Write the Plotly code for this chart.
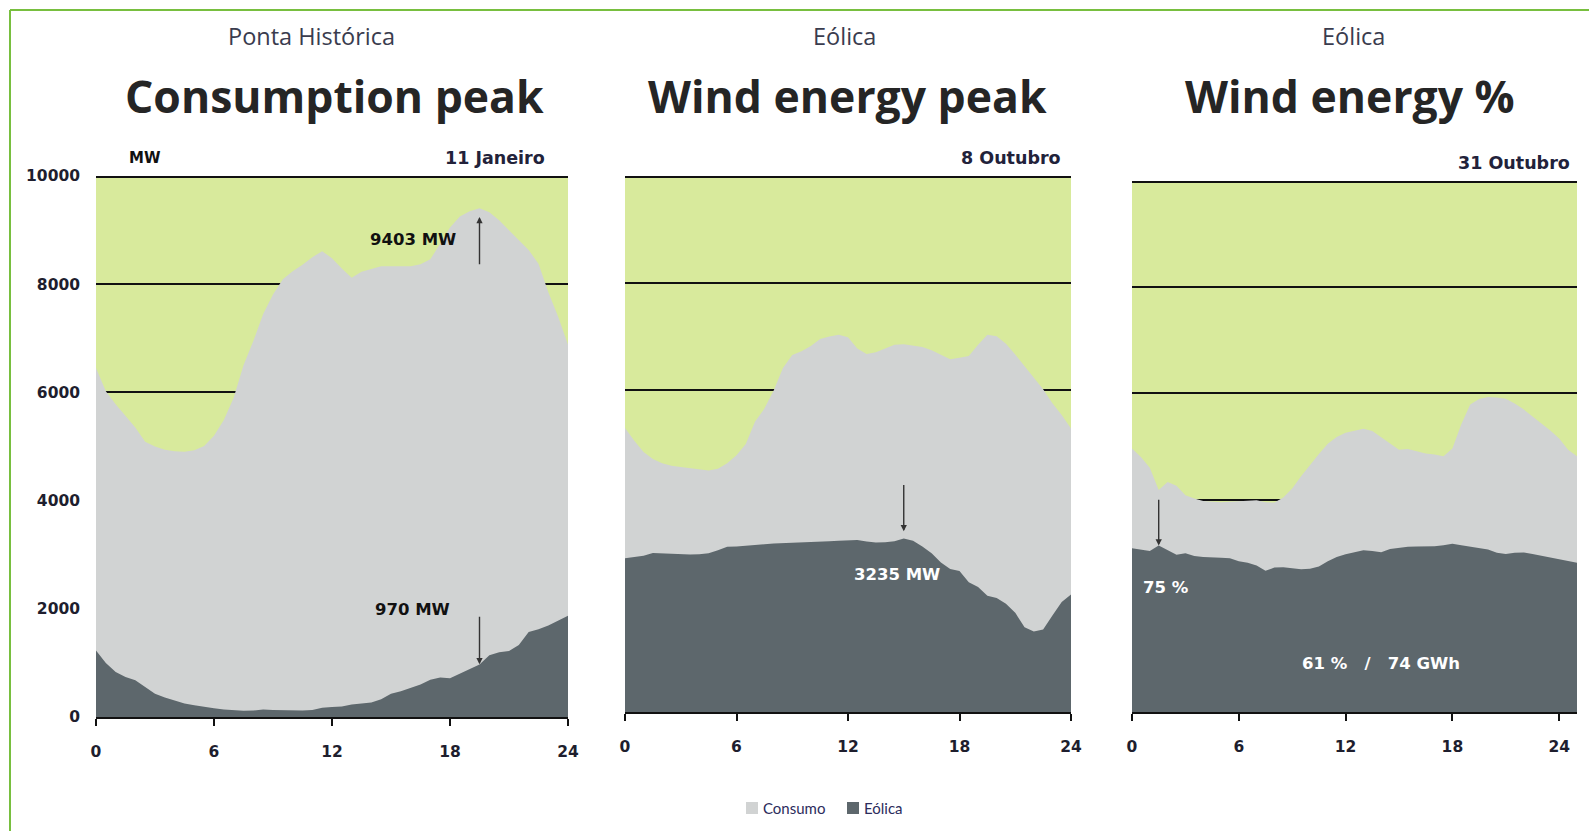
import plotly.graph_objects as go

W, H = 1589, 831

# ---- data -------------------------------------------------------------
# half-hourly time grid (hours); 31 Oct has 25 hours (DST change)
hours_24 = [i * 0.5 for i in range(49)]
hours_25 = [i * 0.5 for i in range(51)]

# 11 Janeiro - consumption peak (MW)
consumo_jan = [6450, 6020, 5780, 5570, 5350, 5090, 5000, 4940, 4910, 4905,
               4930, 5010, 5200, 5490, 5900, 6500, 6950, 7450, 7810, 8090,
               8240, 8360, 8500, 8610, 8480, 8290, 8120, 8230, 8280, 8330,
               8330, 8330, 8330, 8370, 8460, 8750, 9050, 9250, 9350, 9403,
               9330, 9180, 9000, 8810, 8630, 8380, 7850, 7400, 6880]
eolica_jan = [1230, 1000, 830, 740, 680, 560, 430, 360, 300, 250,
              215, 185, 160, 140, 125, 115, 120, 140, 130, 125,
              122, 120, 130, 170, 185, 195, 230, 250, 270, 330,
              430, 475, 540, 600, 690, 730, 715, 800, 900, 970,
              1140, 1195, 1220, 1330, 1570, 1620, 1690, 1780, 1870]

# 8 Outubro - wind energy peak (MW)
consumo_out8 = [5300, 5060, 4850, 4720, 4640, 4595, 4570, 4545, 4520, 4505,
                4540, 4640, 4790, 5000, 5420, 5660, 6000, 6420, 6660, 6730,
                6830, 6960, 7005, 7040, 6990, 6780, 6680, 6710, 6780, 6850,
                6860, 6830, 6810, 6750, 6660, 6580, 6610, 6640, 6850, 7040,
                7010, 6870, 6670, 6460, 6250, 6020, 5760, 5540, 5290]
eolica_out8 = [2870, 2890, 2915, 2965, 2960, 2945, 2940, 2940, 2945, 2960,
               3020, 3085, 3090, 3100, 3120, 3130, 3145, 3150, 3160, 3160,
               3165, 3175, 3185, 3195, 3200, 3210, 3180, 3160, 3165, 3185,
               3235, 3195, 3090, 2960, 2790, 2670, 2630, 2420, 2330, 2170,
               2125, 2020, 1850, 1580, 1500, 1540, 1800, 2050, 2190]

# 31 Outubro - wind energy share (MW)
consumo_out31 = [4960, 4800, 4600, 4180, 4330, 4260, 4080, 4020, 3975, 3960,
                 3950, 3958, 3970, 3980, 3990, 3950, 3945, 4040, 4210, 4440,
                 4660, 4860, 5050, 5180, 5260, 5300, 5336, 5290, 5170, 5060,
                 4940, 4955, 4910, 4870, 4850, 4815, 4960, 5420, 5790, 5895,
                 5930, 5925, 5900, 5810, 5700, 5570, 5430, 5300, 5150, 4940,
                 4816]
eolica_out31 = [3083, 3055, 3030, 3135, 3040, 2960, 2990, 2940, 2920, 2905,
                2903, 2895, 2840, 2810, 2760, 2660, 2720, 2725, 2700, 2686,
                2700, 2740, 2840, 2920, 2970, 3010, 3047, 3030, 3010, 3070,
                3095, 3110, 3119, 3119, 3120, 3140, 3170, 3140, 3110, 3090,
                3060, 3000, 2975, 3000, 3005, 2975, 2940, 2905, 2870, 2840,
                2809]

section_titles = ["Ponta Histórica", "Eólica", "Eólica"]
headlines = ["Consumption peak", "Wind energy peak", "Wind energy %"]
dates = ["11 Janeiro", "8 Outubro", "31 Outubro"]
x_ticks = [0, 6, 12, 18, 24]
y_ticks = [0, 2000, 4000, 6000, 8000, 10000]
series_names = ["Consumo", "Eólica"]

# ---- style ------------------------------------------------------------
BG_GREEN = "#d8ea9c"
C_CONSUMO = "#d1d3d3"
C_EOLICA = "#5d676c"
FRAME_GREEN = "#78bf3f"
TXT_DARK = "#1e1e2e"
TXT_TITLE = "#3a3c4e"

# panel boxes in pixels: (left, right, top, bottom)
boxes = [(96, 568, 176, 717),
         (625, 1071, 176, 712),
         (1132, 1577, 181, 712)]
date_right = [547, 1063, 1572]


def fx(x):
    return x / W


def fy(y):
    return 1 - y / H


panels = [(hours_24, consumo_jan, eolica_jan, 24),
          (hours_24, consumo_out8, eolica_out8, 24),
          (hours_25, consumo_out31, eolica_out31, 25)]

fig = go.Figure()
layout = dict(
    width=W, height=H,
    margin=dict(l=0, r=0, t=0, b=0, autoexpand=False),
    paper_bgcolor="white",
    plot_bgcolor=BG_GREEN,
    showlegend=False,
)

tick_font = dict(family="DejaVu Sans", size=15.5, color=TXT_DARK, weight="bold")
shapes = []

for i, ((hrs, cons, wind, xmax), (l, r, t, b)) in enumerate(zip(panels, boxes)):
    n = "" if i == 0 else str(i + 1)
    fig.add_trace(go.Scatter(x=hrs, y=cons, mode="lines", fill="tozeroy",
                             name=series_names[0],
                             fillcolor=C_CONSUMO, line=dict(width=0, color=C_CONSUMO),
                             xaxis="x" + n, yaxis="y" + n, hoverinfo="skip"))
    fig.add_trace(go.Scatter(x=hrs, y=wind, mode="lines", fill="tozeroy",
                             name=series_names[1],
                             fillcolor=C_EOLICA, line=dict(width=0, color=C_EOLICA),
                             xaxis="x" + n, yaxis="y" + n, hoverinfo="skip"))
    layout["xaxis" + n] = dict(
        domain=[fx(l), fx(r)], anchor="y" + n, range=[0, xmax],
        tickvals=x_ticks, ticktext=[str(v) for v in x_ticks],
        ticks="outside", ticklen=7, tickwidth=2, tickcolor="#111",
        showline=True, linecolor="#111", linewidth=2,
        showgrid=False, zeroline=False, ticklabelstandoff=12,
        tickfont=tick_font, automargin=False, fixedrange=True,
    )
    layout["yaxis" + n] = dict(
        domain=[fy(b), fy(t)], anchor="x" + n, range=[0, 10000],
        tickvals=y_ticks, ticktext=[str(v) for v in y_ticks],
        showgrid=True, gridcolor="#111", gridwidth=2,
        zeroline=False, showline=False, ticks="",
        showticklabels=(i == 0), ticklabelstandoff=15,
        tickfont=tick_font, automargin=False, fixedrange=True,
    )
    # top rule at the 10000 level (half of it is clipped by the plot area)
    shapes.append(dict(type="line", xref=f"x{n} domain", yref="y" + n,
                       x0=0, x1=1, y0=y_ticks[-1], y1=y_ticks[-1],
                       line=dict(color="#111", width=4), layer="above"))

annotations = []
title_x = [311, 844, 1353]
head_x = [334, 847, 1350]
for i in range(3):
    annotations.append(dict(x=fx(title_x[i]), y=fy(35.5), xref="paper", yref="paper",
                            xanchor="center", yanchor="middle",
                            text=section_titles[i], showarrow=False,
                            font=dict(family="Open Sans", size=23.5, color=TXT_TITLE)))
    annotations.append(dict(x=fx(head_x[i]), y=fy(96), xref="paper", yref="paper",
                            xanchor="center", yanchor="middle",
                            text=headlines[i], showarrow=False,
                            font=dict(family="Open Sans", size=44.5, color="#252525",
                                      weight="bold")))
    l, r, t, b = boxes[i]
    annotations.append(dict(x=fx(date_right[i]), y=fy(t - 18), xref="paper", yref="paper",
                            xanchor="right", yanchor="middle", text=dates[i],
                            showarrow=False,
                            font=dict(family="DejaVu Sans", size=17.5, color="#22223a",
                                      weight="bold")))

annotations.append(dict(x=fx(145), y=fy(158), xref="paper", yref="paper",
                        xanchor="center", yanchor="middle",
                        text="MW", showarrow=False,
                        font=dict(family="DejaVu Sans", size=15, color="#111", weight="bold")))

# legend drawn as swatches + labels
legend_swatch_x = [746, 847]
for name, col, sx in zip(series_names, [C_CONSUMO, C_EOLICA], legend_swatch_x):
    annotations.append(dict(x=fx(sx + 15), y=fy(808), xref="paper", yref="paper",
                            xanchor="left", yanchor="middle", text=name, showarrow=False,
                            font=dict(family="Lato", size=15, color="#2c2c5c")))
    shapes.append(dict(type="rect", xref="paper", yref="paper",
                       x0=fx(sx), x1=fx(sx + 12), y0=fy(814), y1=fy(802),
                       fillcolor=col, line=dict(width=0)))

# peak markers derived from the series
pk1 = consumo_jan.index(max(consumo_jan))
x1 = hours_24[pk1]
peak_cons = consumo_jan[pk1]
wind_at_peak = eolica_jan[pk1]
pk2 = eolica_out8.index(max(eolica_out8))
x2 = hours_24[pk2]
peak_wind = eolica_out8[pk2]
share_idx = 3
x3 = hours_25[share_idx]
share = round(100 * eolica_out31[share_idx] / consumo_out31[share_idx])


def add_arrow(xa, x, y_head, y_tail):
    ya = xa.replace("x", "y")
    annotations.append(dict(x=x, y=y_head, ax=x, ay=y_tail, xref=xa, yref=ya,
                            axref=xa, ayref=ya, text="",
                            showarrow=True, arrowhead=2, arrowsize=0.9, arrowwidth=1.4,
                            arrowcolor="#333"))


add_arrow("x", x1, peak_cons - 160, peak_cons - 1060)
add_arrow("x", x1, wind_at_peak + 5, wind_at_peak + 910)
add_arrow("x2", x2, peak_wind + 135, peak_wind + 1030)
add_arrow("x3", x3, eolica_out31[share_idx], eolica_out31[share_idx] + 890)

lbl_font_dark = dict(family="DejaVu Sans", size=16.5, color="#111", weight="bold")
lbl_font_white = dict(family="DejaVu Sans", size=16.5, color="white", weight="bold")
annotations += [
    dict(x=16.1, y=8835, xref="x", yref="y", text=f"{peak_cons} MW",
         showarrow=False, font=lbl_font_dark),
    dict(x=16.1, y=1989, xref="x", yref="y", text=f"{wind_at_peak} MW",
         showarrow=False, font=lbl_font_dark),
    dict(x=14.64, y=2557, xref="x2", yref="y2", text=f"{peak_wind} MW",
         showarrow=False, font=lbl_font_white),
    dict(x=1.9, y=2347, xref="x3", yref="y3", text=f"{share} %",
         showarrow=False, font=lbl_font_white),
    dict(x=14.0, y=918, xref="x3", yref="y3",
         text="61\u00a0%\u00a0\u00a0\u00a0/\u00a0\u00a0\u00a074\u00a0GWh",
         showarrow=False, font=lbl_font_white),
]
layout["annotations"] = annotations

# outer green frame
shapes += [
    dict(type="line", xref="paper", yref="paper", x0=fx(10), x1=1, y0=fy(10), y1=fy(10),
         line=dict(color=FRAME_GREEN, width=2)),
    dict(type="line", xref="paper", yref="paper", x0=fx(10), x1=fx(10), y0=fy(10), y1=0,
         line=dict(color=FRAME_GREEN, width=2)),
]
layout["shapes"] = shapes

fig.update_layout(**layout)
fig.write_html("out.html")
